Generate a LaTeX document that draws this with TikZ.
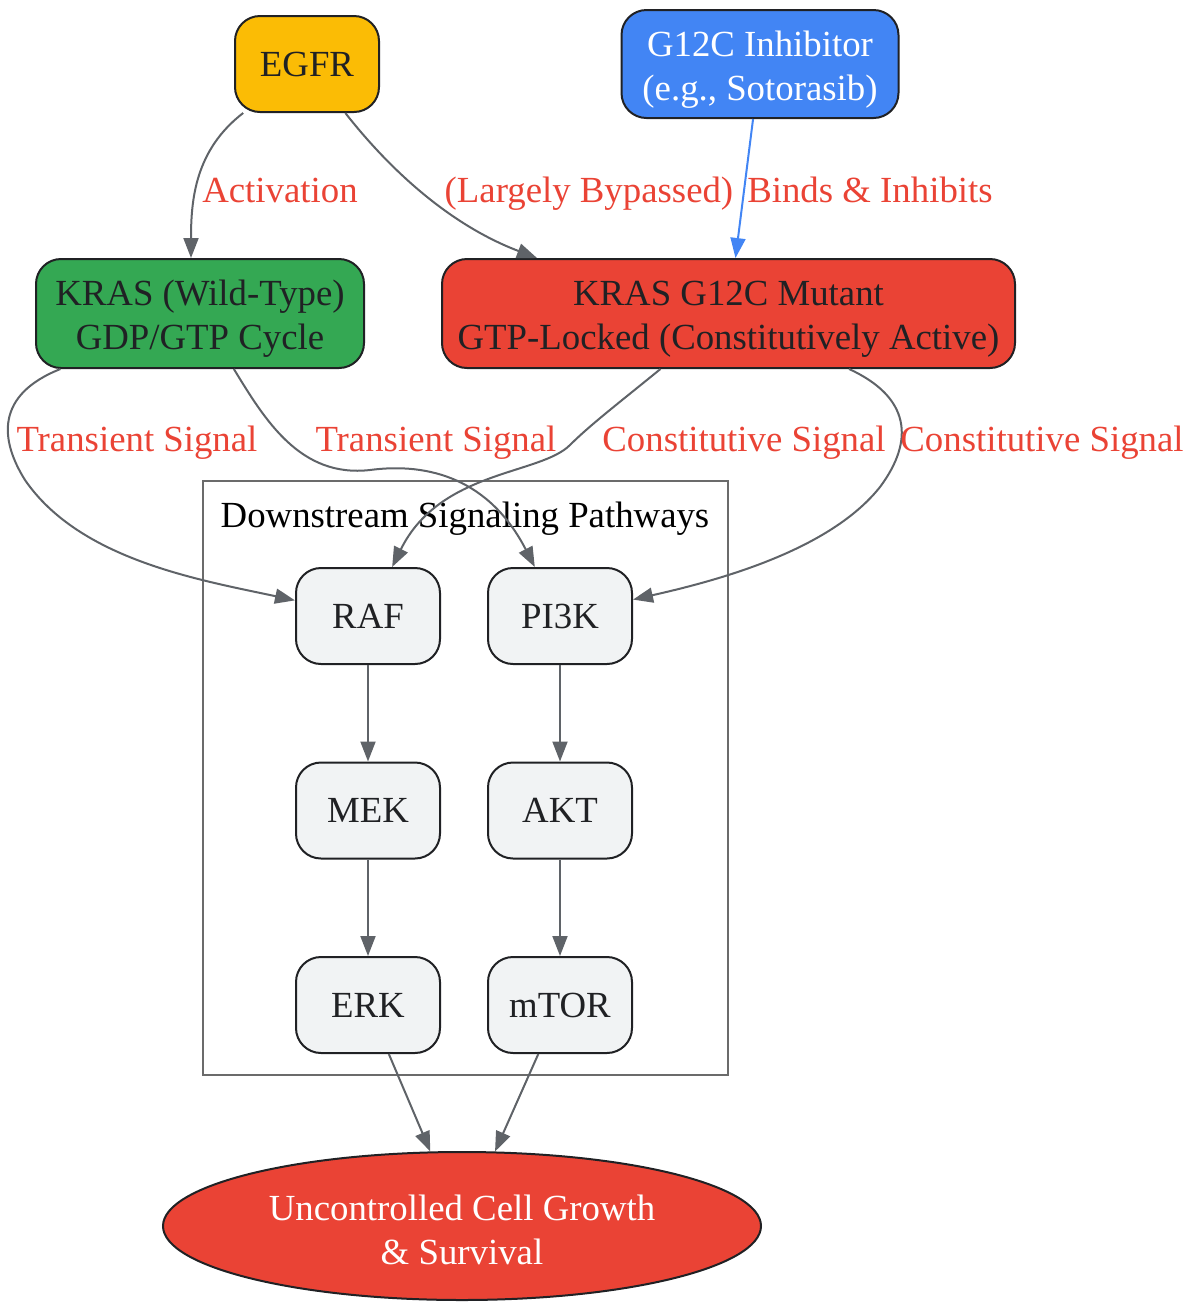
\documentclass[tikz,border=0pt]{standalone}
\usepackage{fontspec}
\setmainfont{Liberation Serif}
\usetikzlibrary{shapes.geometric,arrows.meta,calc}
\definecolor{cEGFR}{HTML}{FBBC05}
\definecolor{cBlue}{HTML}{4285F4}
\definecolor{cGreen}{HTML}{34A853}
\definecolor{cRed}{HTML}{EA4335}
\definecolor{cBox}{HTML}{F1F3F4}
\definecolor{cDark}{HTML}{202124}
\definecolor{cEdge}{HTML}{5F6368}
\definecolor{cClus}{HTML}{6B6B6B}
\newcommand{\mytwolines}[2]{\raisebox{#1}[0pt][0pt]{\begin{tabular}[t]{@{}c@{}}#2\end{tabular}}}
\begin{document}
\begin{tikzpicture}[x=0.5pt,y=-0.5pt,
  base/.style={font=\fontsize{18.4}{22}\selectfont},
  rbox/.style={base,draw=cDark,line width=1pt,rounded corners=12.5pt,inner sep=0pt,align=center,text=cDark},
  small/.style={rbox,fill=cBox,minimum width=72pt,minimum height=48pt},
  edge/.style={draw=cEdge,line width=1pt,-{Triangle[length=10pt,width=7.5pt]}},
  lbl/.style={base,text=cRed,inner sep=0pt,anchor=base}]
\useasboundingbox (0,0) rectangle (1190,1303);
% cluster
\node[draw=cClus,line width=1pt,minimum width=262.5pt,minimum height=297pt,inner sep=0pt] (cluster) at (465.5,778) {};
\node[base,text=black,inner sep=0pt,anchor=base] (clusterlbl) at (465,527.5) {Downstream Signaling Pathways};
% nodes
\node[rbox,fill=cEGFR,minimum width=72pt,minimum height=48pt] (egfr) at (307,64) {EGFR};
\node[rbox,fill=cBlue,text=white,minimum width=138.5pt,minimum height=54pt] (g12c) at (760,64) {\mytwolines{4pt}{G12C Inhibitor\\(e.g., Sotorasib)}};
\node[rbox,fill=cGreen,minimum width=164pt,minimum height=54.5pt] (kwt) at (200,313.5) {\mytwolines{4.25pt}{KRAS (Wild-Type)\\GDP/GTP Cycle}};
\node[rbox,fill=cRed,minimum width=286.5pt,minimum height=54.5pt] (mut) at (728.5,313.5) {\mytwolines{4.25pt}{KRAS G12C Mutant\\GTP-Locked (Constitutively Active)}};
\node[small] (raf) at (368,616) {RAF};
\node[small] (pi3k) at (560,616) {PI3K};
\node[small] (mek) at (368,810.5) {MEK};
\node[small] (akt) at (560,810.5) {AKT};
\node[small] (erk) at (368,1005) {ERK};
\node[small] (mtor) at (560,1005) {mTOR};
\node[ellipse,draw=cDark,line width=1pt,fill=cRed,text=white,base,align=center,minimum width=299pt,minimum height=74pt,inner sep=0pt] (out) at (462,1226) {\mytwolines{2.65pt}{Uncontrolled Cell Growth\\\& Survival}};
% edges
\draw[edge] (egfr) .. controls (195,150) and (191,200) .. ($(kwt.north)+(-9,0)$);
\draw[edge] (egfr) .. controls (390,170) and (450,225) .. ($(mut.north west)+(96,0)$);
\draw[edge,draw=cBlue,-{Triangle[length=10pt,width=7.5pt,fill=cBlue]}] (g12c) -- (mut);
\draw[edge] (kwt) .. controls (-5,395) and (0,440) .. (25,480) .. controls (80,560) and (200,580) .. (raf);
\draw[edge] (kwt) .. controls (265,420) and (300,478) .. (370,470) .. controls (430,462) and (490,480) .. (pi3k);
\draw[edge] (mut) .. controls (620,402) and (590,425) .. (570,445) .. controls (540,475) and (440,470) .. (raf);
\draw[edge] (mut) .. controls (910,397) and (915,440) .. (880,487) .. controls (830,550) and (720,580) .. (pi3k);
\draw[edge] (raf) -- (mek);
\draw[edge] (mek) -- (erk);
\draw[edge] (pi3k) -- (akt);
\draw[edge] (akt) -- (mtor);
\draw[edge] (erk) -- (out);
\draw[edge] (mtor) -- (out);
% labels
\node[lbl] (l1) at (280,202.5) {Activation};
\node[lbl] (l2) at (589,202.5) {(Largely Bypassed)};
\node[lbl] (l3) at (870,202.5) {Binds \& Inhibits};
\node[lbl] (l4) at (137,451.5) {Transient Signal};
\node[lbl] (l5) at (436,451.5) {Transient Signal};
\node[lbl] (l6) at (744,451.5) {Constitutive Signal};
\node[lbl] (l7) at (1042,451.5) {Constitutive Signal};
\end{tikzpicture}
\end{document}
